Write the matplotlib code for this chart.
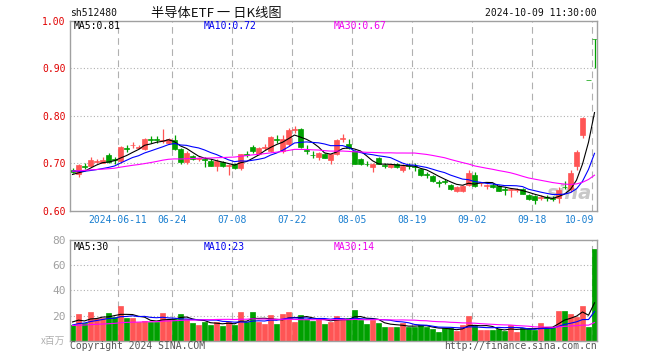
import numpy as np
import pandas as pd
import matplotlib
matplotlib.use('Agg')
import matplotlib.pyplot as plt
import matplotlib.transforms as mtransforms

# ---------------------------------------------------------------------
# sh512480 半导体ETF, daily candles 2024-05-29 .. 2024-10-09
# ---------------------------------------------------------------------
opens = [0.686, 0.676, 0.694, 0.693, 0.702, 0.701, 0.717, 0.708, 0.705, 0.732,
         0.737, 0.732, 0.729, 0.750, 0.750, 0.747, 0.743, 0.748, 0.729, 0.703,
         0.715, 0.709, 0.709, 0.705, 0.694, 0.702, 0.694, 0.699, 0.689, 0.720,
         0.733, 0.719, 0.732, 0.726, 0.751, 0.726, 0.741, 0.770, 0.771, 0.728,
         0.718, 0.713, 0.720, 0.706, 0.719, 0.750, 0.741, 0.726, 0.708, 0.699,
         0.691, 0.710, 0.695, 0.692, 0.699, 0.686, 0.695, 0.694, 0.687, 0.676,
         0.672, 0.660, 0.662, 0.654, 0.642, 0.642, 0.654, 0.675, 0.657, 0.651,
         0.653, 0.652, 0.645, 0.643, 0.643, 0.645, 0.633, 0.630, 0.627, 0.628,
         0.626, 0.626, 0.650, 0.646, 0.693, 0.760, 0.875, 0.962]
highs = [0.690, 0.699, 0.700, 0.712, 0.708, 0.713, 0.722, 0.712, 0.735, 0.738,
         0.745, 0.738, 0.753, 0.756, 0.756, 0.771, 0.753, 0.760, 0.731, 0.726,
         0.717, 0.713, 0.713, 0.708, 0.708, 0.704, 0.699, 0.701, 0.720, 0.725,
         0.737, 0.733, 0.741, 0.757, 0.760, 0.760, 0.773, 0.779, 0.773, 0.737,
         0.726, 0.724, 0.722, 0.720, 0.750, 0.762, 0.750, 0.728, 0.710, 0.704,
         0.700, 0.713, 0.700, 0.699, 0.701, 0.697, 0.700, 0.701, 0.688, 0.681,
         0.674, 0.664, 0.666, 0.656, 0.652, 0.654, 0.686, 0.681, 0.661, 0.656,
         0.658, 0.654, 0.650, 0.648, 0.648, 0.647, 0.635, 0.632, 0.633, 0.632,
         0.630, 0.650, 0.663, 0.685, 0.728, 0.797, 0.875, 0.962]
lows = [0.679, 0.670, 0.687, 0.691, 0.700, 0.700, 0.701, 0.698, 0.701, 0.724,
        0.731, 0.729, 0.728, 0.742, 0.742, 0.743, 0.741, 0.728, 0.697, 0.697,
        0.706, 0.705, 0.691, 0.693, 0.684, 0.692, 0.674, 0.688, 0.685, 0.712,
        0.722, 0.716, 0.727, 0.724, 0.742, 0.722, 0.736, 0.764, 0.731, 0.720,
        0.710, 0.706, 0.710, 0.699, 0.718, 0.744, 0.730, 0.697, 0.695, 0.694,
        0.681, 0.697, 0.690, 0.690, 0.689, 0.682, 0.688, 0.683, 0.673, 0.668,
        0.661, 0.649, 0.656, 0.643, 0.640, 0.640, 0.651, 0.650, 0.652, 0.646,
        0.648, 0.641, 0.633, 0.629, 0.639, 0.634, 0.622, 0.613, 0.622, 0.620,
        0.621, 0.616, 0.645, 0.640, 0.685, 0.753, 0.874, 0.900]
closes = [0.681, 0.696, 0.692, 0.706, 0.704, 0.706, 0.703, 0.706, 0.734, 0.730,
          0.739, 0.734, 0.750, 0.748, 0.748, 0.749, 0.751, 0.729, 0.703, 0.722,
          0.708, 0.711, 0.707, 0.694, 0.705, 0.693, 0.696, 0.690, 0.719, 0.718,
          0.726, 0.731, 0.734, 0.755, 0.749, 0.750, 0.769, 0.772, 0.733, 0.726,
          0.716, 0.722, 0.710, 0.720, 0.748, 0.752, 0.731, 0.697, 0.699, 0.698,
          0.699, 0.698, 0.694, 0.698, 0.691, 0.694, 0.693, 0.692, 0.674, 0.675,
          0.662, 0.659, 0.661, 0.645, 0.649, 0.652, 0.680, 0.652, 0.659, 0.653,
          0.650, 0.642, 0.643, 0.645, 0.645, 0.635, 0.624, 0.623, 0.628, 0.627,
          0.625, 0.644, 0.649, 0.678, 0.724, 0.795, 0.874, 0.961]
# volume, millions of shares
volumes = [12.5, 21.2, 13.8, 22.8, 17.7, 18.3, 22.0, 19.0, 27.5, 17.7,
           17.7, 15.1, 15.6, 14.8, 14.8, 22.0, 17.0, 17.0, 21.2, 17.0,
           14.3, 12.5, 15.1, 12.5, 15.1, 11.9, 15.1, 12.5, 22.8, 15.1,
           23.0, 15.1, 13.2, 20.4, 13.2, 20.9, 22.5, 15.1, 20.4, 17.0,
           15.9, 17.7, 13.2, 15.1, 19.9, 17.7, 17.7, 24.4, 16.4, 13.2,
           16.4, 14.3, 10.9, 10.9, 10.9, 14.3, 10.9, 10.9, 12.2, 11.2,
           9.1, 6.9, 9.9, 9.9, 7.9, 12.2, 19.4, 11.5, 8.5, 8.5,
           8.5, 9.3, 7.9, 12.2, 7.0, 9.9, 9.9, 8.8, 14.0, 9.8,
           10.9, 23.6, 23.6, 21.0, 18.5, 27.5, 10.5, 73.0]

# sessions before 05-29, only used to warm up the moving averages
prior_closes = [0.672, 0.668, 0.675, 0.680, 0.684, 0.679, 0.671, 0.666, 0.673, 0.681,
                0.686, 0.690, 0.683, 0.678, 0.669, 0.692, 0.705, 0.710, 0.702, 0.696,
                0.698, 0.693, 0.690, 0.686, 0.683, 0.679, 0.676, 0.672, 0.672]
prior_volumes = [12, 11, 13, 10, 12, 14, 11, 12, 10, 13, 12, 11, 13, 12, 10,
                 12, 11, 13, 12, 13, 10, 9, 11, 10, 10, 14, 17, 15, 16]

tick_idx = [8, 17, 27, 37, 47, 57, 67, 77, 87]
tick_labels = ['2024-06-11', '06-24', '07-08', '07-22', '08-05',
               '08-19', '09-02', '09-18', '10-09']
price_ticks = [0.60, 0.70, 0.80, 0.90, 1.00]
vol_ticks = [20, 40, 60, 80]

# ---------------------------------------------------------------------
RED = '#ff5555'
GREEN = '#00a000'
MA_COLORS = {5: '#000000', 10: '#0000ff', 30: '#ff00ff'}
MA_TEXT = {5: '#000000', 10: '#0000ee', 30: '#ee00ee'}
GRID = '#b0b0b0'
MONO = 'DejaVu Sans Mono'
CJK = ['Noto Sans CJK SC', 'DejaVu Sans']

plt.rcParams['font.family'] = MONO

n = len(closes)
x = np.arange(n) + 0.42
o, h, l, c = map(np.array, (opens, highs, lows, closes))
colors = [RED if cc >= oo else GREEN for oo, cc in zip(o, c)]


def moving(prior, values, win):
    s = pd.Series(list(prior) + list(values), dtype=float)
    return s.rolling(win).mean().iloc[len(prior):].to_numpy()


W, H = 660, 360
fig = plt.figure(figsize=(6.6, 3.6), dpi=100)
ax = fig.add_axes([70 / W, 1 - 210.5 / H, 527 / W, 189.8 / H])
axv = fig.add_axes([70 / W, 1 - 340.7 / H, 527 / W, 100.7 / H])


def ptext(px, py, s, **kw):
    fig.text(px / W, 1 - py / H, s, **kw)


for a in (ax, axv):
    a.set_xlim(0, 527 / 6)
    a.set_xticks([])
    for sp in a.spines.values():
        sp.set_color('#a0a0a0')
        sp.set_linewidth(1.0)
    for t in tick_idx:
        a.axvline(t, color=GRID, lw=0.8, ls=(0, (6, 4)), zorder=0)
    a.tick_params(axis='y', length=0, pad=3, labelsize=7)

# ---- price panel ----
ax.set_ylim(0.6, 1.0)
ax.set_yticks(price_ticks)
ax.set_yticklabels([f'{v:.2f}' for v in price_ticks])
ax.tick_params(axis='y', labelcolor='#e00000')
for v in price_ticks[1:-1]:
    ax.axhline(v, color=GRID, lw=0.8, ls=(0, (1, 2)), zorder=0)

# faint site watermark
ax.text(0.99, 0.04, 'sina', transform=ax.transAxes, ha='right', va='bottom',
        fontsize=14, fontstyle='italic', fontweight='bold', color='#c8c8c8',
        family='DejaVu Sans', zorder=0.5)

ax.vlines(x, l, h, colors=colors, lw=0.9, zorder=2)
body = np.maximum(np.abs(c - o), 0.0004)
ax.bar(x, body, bottom=np.minimum(o, c), width=0.72, color=colors,
       edgecolor=colors, linewidth=0.5, zorder=2)

price_ma = {}
for win in (5, 10, 30):
    price_ma[win] = moving(prior_closes, closes, win)
    ax.plot(x, price_ma[win], color=MA_COLORS[win], lw=0.8, zorder=3)

# ---- volume panel ----
axv.set_ylim(0, 80)
axv.set_yticks(vol_ticks)
axv.set_yticklabels([str(v) for v in vol_ticks])
axv.tick_params(axis='y', labelcolor='#a0a0a0', labelsize=8)
for v in vol_ticks[:-1]:
    axv.axhline(v, color=GRID, lw=0.8, ls=(0, (1, 2)), zorder=0)
axv.bar(x, volumes, width=0.72, color=colors, edgecolor=colors,
        linewidth=0.5, zorder=2)
vol_ma = {}
for win in (5, 10, 30):
    vol_ma[win] = moving(prior_volumes, volumes, win)
    axv.plot(x, vol_ma[win], color=MA_COLORS[win], lw=0.8, zorder=3)

# ---- date labels ----
trans = mtransforms.blended_transform_factory(ax.transData, ax.transAxes)
for t, lab in zip(tick_idx, tick_labels):
    if t == tick_idx[-1]:
        ax.text(87.4, -0.052, lab, transform=trans, ha='right', va='center',
                fontsize=7, color='#1a7fd0')
    else:
        ax.text(t, -0.052, lab, transform=trans, ha='center', va='center',
                fontsize=7, color='#1a7fd0')

# ---- header, legends, footer ----
ptext(70, 13, 'sh512480', ha='left', va='center', fontsize=7, color='#111111')
ptext(216, 13, '半导体ETF 一 日K线图', ha='center', va='center', fontsize=9.5,
      family=CJK, color='#111111')
ptext(597, 13, '2024-10-09 11:30:00', ha='right', va='center', fontsize=7,
      color='#111111')

legend_x = {5: 74, 10: 204, 30: 334}
for win in (5, 10, 30):
    ptext(legend_x[win], 26, f'MA{win}:{price_ma[win][-1]:.2f}', ha='left',
          va='center', fontsize=7, color=MA_TEXT[win])
    ptext(legend_x[win], 246.5, f'MA{win}:{vol_ma[win][-1]:.0f}', ha='left',
          va='center', fontsize=7, color=MA_TEXT[win])

ptext(65, 341, 'x百万', ha='right', va='center', fontsize=7, family=CJK,
      color='#b0b0b0')
ptext(70, 346, 'Copyright 2024 SINA.COM', ha='left', va='center', fontsize=7,
      color='#555555')
ptext(597, 346, 'http://finance.sina.com.cn', ha='right', va='center',
      fontsize=7, color='#555555')

fig.savefig('out.png', dpi=100)
